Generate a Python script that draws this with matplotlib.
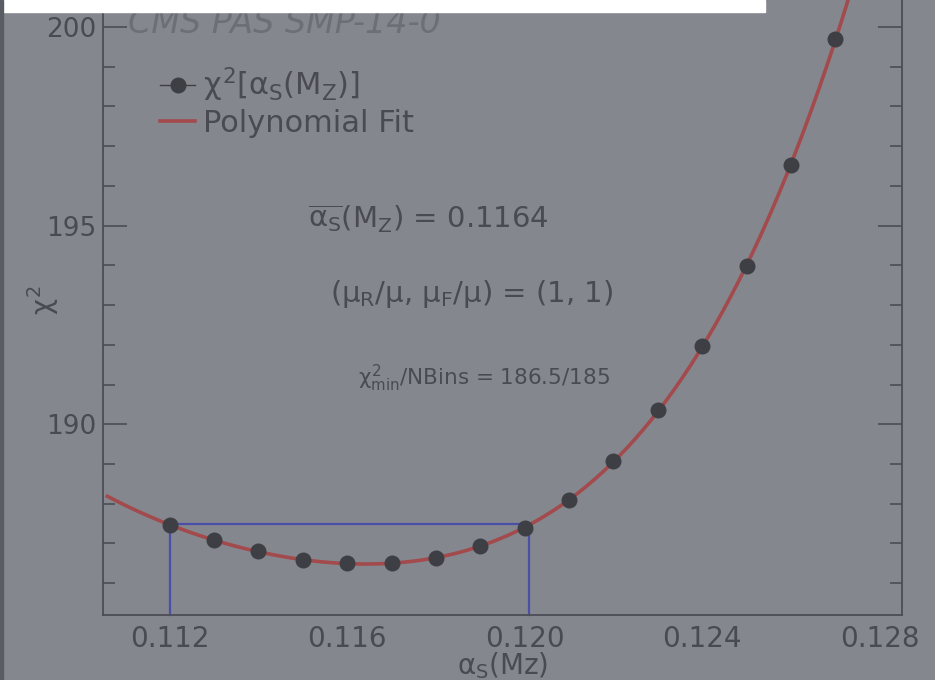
import matplotlib
matplotlib.use('Agg')
import matplotlib.pyplot as plt
import numpy as np
from matplotlib.lines import Line2D
from matplotlib.patches import Rectangle
from matplotlib.ticker import MultipleLocator, FixedLocator

# ---------------- data ----------------
alpha_s = [0.112, 0.113, 0.114, 0.115, 0.116, 0.117, 0.118, 0.119,
           0.120, 0.121, 0.122, 0.123, 0.124, 0.125, 0.126, 0.127]
chi2 = [187.46, 187.10, 186.80, 186.59, 186.50, 186.50, 186.63, 186.93,
        187.39, 188.10, 189.08, 190.35, 191.96, 193.98, 196.52, 199.70]
fit_degree = 4
fit_range = [0.1106, 0.1285]
interval_alpha = [0.1120, 0.1201]
interval_chi2 = 187.48
xticks = [0.112, 0.116, 0.120, 0.124, 0.128]
xtick_labels = ['0.112', '0.116', '0.120', '0.124', '0.128']
yticks = [190, 195, 200]
legend_labels = [r'$\chi^{2}[\alpha_{S}(M_{Z})]$', 'Polynomial Fit']
note_alpha = r'$\overline{\alpha_{S}}(M_{Z})$ = 0.1164'
note_scale = r'($\mu_{R}/\mu$, $\mu_{F}/\mu$) = (1, 1)'
note_chi2 = r'$\chi^{2}_{\mathrm{min}}$/NBins = 186.5/185'
header = 'CMS PAS SMP-14-0'

# ---------------- style ----------------
plt.rcParams['font.family'] = ['DejaVu Sans']
plt.rcParams['mathtext.fontset'] = 'custom'
plt.rcParams['mathtext.rm'] = 'DejaVu Sans'
plt.rcParams['mathtext.it'] = 'DejaVu Sans'
plt.rcParams['mathtext.bf'] = 'DejaVu Sans:bold'
plt.rcParams['mathtext.sf'] = 'DejaVu Sans'

W, H = 935, 680
bg = '#85878f'
txt = '#4a4b52'
spine_c = '#4d4e55'
red = '#a24a4c'
blue = '#4a50a8'
dot = '#3e3f45'

fig = plt.figure(figsize=(W / 100, H / 100), dpi=100)
fig.patch.set_facecolor(bg)

ax_left, ax_right, ax_bottom, ax_top = 103, 902, 615, -12.8
ax = fig.add_axes([ax_left / W, 1 - ax_bottom / H,
                   (ax_right - ax_left) / W, (ax_bottom - ax_top) / H])
ax.set_facecolor(bg)
ax.set_xlim(0.1105, 0.1285)
ax.set_ylim(185.2, 201.0)

# fit curve
coef = np.polyfit(alpha_s, chi2, fit_degree)
xf = np.linspace(fit_range[0], fit_range[1], 400)
ax.plot(xf, np.polyval(coef, xf), color=red, lw=2.6, zorder=3)

# interval box
ax.plot([interval_alpha[0], interval_alpha[0], interval_alpha[1], interval_alpha[1]],
        [185.2, interval_chi2, interval_chi2, 185.2],
        color=blue, lw=1.6, zorder=2, clip_on=False)

# points
ax.plot(alpha_s, chi2, linestyle='none', marker='o', ms=10.5,
        color=dot, zorder=4)

# axes styling
for side in ['left', 'right', 'bottom']:
    ax.spines[side].set_color(spine_c)
    ax.spines[side].set_linewidth(1.3)
ax.spines['top'].set_visible(False)

ax.xaxis.set_major_locator(FixedLocator(xticks))
ax.set_xticklabels(xtick_labels)
ax.tick_params(axis='x', length=0, pad=7, labelsize=20, labelcolor=txt)

ax.yaxis.set_major_locator(FixedLocator(yticks))
ax.yaxis.set_minor_locator(MultipleLocator(1))
ax.tick_params(axis='y', which='major', direction='in', length=17, width=1.2,
               color=spine_c, left=True, right=True, labelsize=19,
               labelcolor=txt, pad=5)
ax.tick_params(axis='y', which='minor', direction='in', length=8.5, width=1.2,
               color=spine_c, left=True, right=True)

ax.set_xlabel(r'$\alpha_{S}$(Mz)', fontsize=20, color=txt, labelpad=-2)
fig.text(43 / W, 1 - 300 / H, r'$\chi^{2}$', rotation=90, fontsize=20,
         color=txt, ha='center', va='center')

# legend
h_pts = Line2D([], [], color=dot, marker='o', ms=10.5, lw=1.0)
h_fit = Line2D([], [], color=red, lw=2.6)
leg = ax.legend([h_pts, h_fit], legend_labels, loc='upper left',
                bbox_to_anchor=(160 / W, 1 - 66 / H),
                bbox_transform=fig.transFigure, frameon=False, fontsize=22,
                borderpad=0, borderaxespad=0, handlelength=1.15,
                handletextpad=0.25, labelspacing=0.15)
for t in leg.get_texts():
    t.set_color(txt)

# annotations
fig.text(308 / W, 1 - 228 / H, note_alpha, fontsize=21, color=txt,
         ha='left', va='baseline')
fig.text(330 / W, 1 - 302 / H, note_scale, fontsize=21, color=txt,
         ha='left', va='baseline')
fig.text(358 / W, 1 - 385 / H, note_chi2, fontsize=15.5, color=txt,
         ha='left', va='baseline')

# header text and white box
fig.text(128 / W, 1 - 33 / H, header, style='italic', fontsize=24,
         color='#6d6f77', ha='left', va='baseline')
fig.add_artist(Rectangle((0, 1 - 12 / H), 765 / W, 12 / H,
                         transform=fig.transFigure, color='white', zorder=10))
fig.add_artist(Rectangle((0, 0), 3 / W, 1, transform=fig.transFigure,
                         color='#5a5c63', zorder=10))

fig.savefig('out.png', dpi=100, facecolor=fig.get_facecolor())
